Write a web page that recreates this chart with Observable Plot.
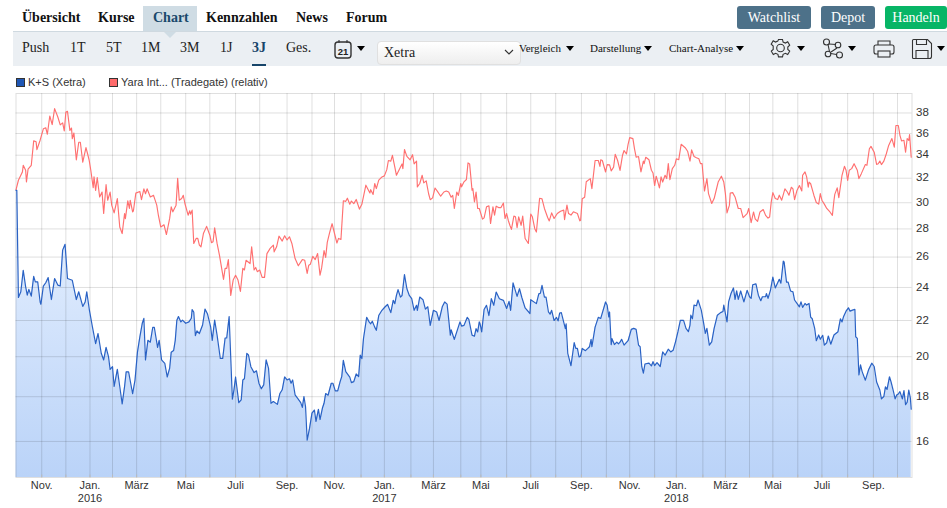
<!DOCTYPE html>
<html lang="de"><head><meta charset="utf-8">
<script src="https://cdn.jsdelivr.net/npm/d3@7"></script>
<script src="https://cdn.jsdelivr.net/npm/@observablehq/plot@0.6"></script>
<style>
html,body{margin:0;padding:0;background:#fff;width:947px;height:508px;overflow:hidden}
#page{position:relative;width:947px;height:508px;font-family:"Liberation Serif",serif;color:#111}
.a{position:absolute;white-space:nowrap;line-height:16px}
.t{font-size:14px;font-weight:bold;top:10px}
.s{font-size:14px;top:40px;color:#222}
.m{font-size:11px;top:40px;color:#111}
.btn{position:absolute;top:6px;height:23px;line-height:23px;border-radius:3px;color:#fff;font-size:14px;text-align:center}
.car{position:absolute;width:0;height:0;border-left:4.5px solid transparent;border-right:4.5px solid transparent;border-top:5px solid #000;top:46px}
.lg{position:absolute;top:75px;font:11px/14px "Liberation Sans",sans-serif;color:#333;white-space:nowrap}
.sw{position:absolute;top:78px;width:7px;height:7px;border:1px solid #333}
#chart{position:absolute;left:0;top:85px}
#chart svg{display:block}
svg.i{position:absolute;fill:none;stroke:#333;stroke-width:1.1}
</style></head><body><div id="page">
<div class="a" style="left:143px;top:6px;width:54px;height:25px;background:#cfdce4"></div>
<div class="a" style="left:13px;top:31px;width:934px;height:35px;background:#ebeff3;border-top:1px solid #cfd9e0;box-sizing:border-box"></div>
<div class="a" style="left:164px;top:32px;width:0;height:0;border-left:6px solid transparent;border-right:6px solid transparent;border-top:6px solid #cfdce4"></div>
<div class="a t" style="left:22px">Übersicht</div><div class="a t" style="left:98px">Kurse</div>
<div class="a t" style="left:153px;color:#19496b">Chart</div><div class="a t" style="left:206px">Kennzahlen</div>
<div class="a t" style="left:296px">News</div><div class="a t" style="left:346px">Forum</div>
<div class="btn" style="left:737px;width:74px;background:#4d7189">Watchlist</div>
<div class="btn" style="left:821px;width:54px;background:#4d7189">Depot</div>
<div class="btn" style="left:885px;width:62px;background:#07b566">Handeln</div>
<div class="a s" style="left:22px">Push</div><div class="a s" style="left:70px">1T</div><div class="a s" style="left:106px">5T</div>
<div class="a s" style="left:141px">1M</div><div class="a s" style="left:180px">3M</div><div class="a s" style="left:220px">1J</div>
<div class="a s" style="left:252px;font-weight:bold;color:#17456a">3J</div>
<div class="a" style="left:252px;top:64px;width:14px;height:2px;background:#17456a"></div>
<div class="a s" style="left:286px">Ges.</div>
<svg class="i" style="left:334px;top:39px" width="19" height="21" viewBox="0 0 19 21"><rect x="1" y="3" width="16" height="16" rx="3" stroke-width="1.4"/><path d="M5 1v3M13 1v3"/><text x="9" y="16" font-family="Liberation Sans" font-size="9.5" font-weight="bold" text-anchor="middle" fill="#222" stroke="none">21</text></svg>
<div class="car" style="left:357px"></div>
<div class="a" style="left:377px;top:41px;width:144px;height:24px;border:1px solid #e0e0e0;box-sizing:border-box;border-radius:4px;background:linear-gradient(#fff,#eee);font-size:14px;line-height:22px;padding-left:6px;color:#222">Xetra</div>
<svg class="i" style="left:504px;top:48px" width="10" height="8" viewBox="0 0 10 8"><path d="M1 2l4 4 4-4"/></svg>
<div class="a m" style="left:519px">Vergleich</div><div class="car" style="left:566px"></div>
<div class="a m" style="left:590px">Darstellung</div><div class="car" style="left:644px"></div>
<div class="a m" style="left:669px">Chart-Analyse</div><div class="car" style="left:736px"></div>
<svg class="i" style="left:770px;top:38px" width="21" height="21" viewBox="0 0 21 21"><path d="M8.5 1.5h4l.6 2.6 2.3 1 2.3-1.3 2 3.4-1.9 1.8v2.4l1.9 1.8-2 3.4-2.3-1.3-2.3 1-.6 2.6h-4l-.6-2.6-2.3-1-2.3 1.3-2-3.4 1.9-1.8V8L1.2 6.2l2-3.4 2.3 1.3 2.3-1z"/><circle cx="10.5" cy="10" r="3.8"/></svg>
<div class="car" style="left:797px"></div>
<svg class="i" style="left:822px;top:38px" width="22" height="21" viewBox="0 0 22 21"><circle cx="4.5" cy="4" r="3"/><circle cx="16" cy="7" r="2.8"/><circle cx="6" cy="16" r="2.8"/><circle cx="17.5" cy="17" r="3"/><path d="M6 6.5l1.5 7M8.8 15.5l5.7 1M7 6l7 0.5M15 10l-6 4"/></svg>
<div class="car" style="left:848px"></div>
<svg class="i" style="left:873px;top:39px" width="22" height="20" viewBox="0 0 22 20"><path d="M5 6V2h12v4M5 15H3a2 2 0 0 1-2-2V8a2 2 0 0 1 2-2h16a2 2 0 0 1 2 2v5a2 2 0 0 1-2 2h-2"/><rect x="5" y="12" width="12" height="6"/></svg>
<svg class="i" style="left:911px;top:38px" width="22" height="22" viewBox="0 0 22 22"><path d="M2.5 1.5h14l4 4v13a2 2 0 0 1-2 2h-16a1 1 0 0 1-1-1v-17a1 1 0 0 1 1-1z"/><path d="M5.5 1.5v5h10v-5M5 20.5v-8h12v8"/></svg>
<div class="car" style="left:937px"></div>
<div class="sw" style="left:16px;background:#1f57b5"></div><div class="lg" style="left:28px">K+S (Xetra)</div>
<div class="sw" style="left:109px;background:#ff6b6b"></div><div class="lg" style="left:121px">Yara Int... (Tradegate) (relativ)</div>
<div id="chart"></div>
</div>
<script>
// Tage seit dem 30.09.2015 und Kurse
const ksDays=[0,1,3,6,9,12,14,16,19,22,24,27,30,31,34,37,40,44,48,52,55,58,61,64,70,75,78,83,86,88,91,95,99,102,106,109,112,115,117,120,122,126,129,132,135,137,140,145,148,151,154,157,159,161,164,167,170,172,176,178,181,185,188,191,193,196,198,200,202,205,207,211,215,218,219,221,223,225,228,232,235,238,242,244,247,250,254,257,260,262,265,269,271,273,277,280,282,284,287,289,292,296,299,302,305,308,311,314,317,320,325,328,331,334,337,340,342,344,347,350,354,356,358,360,362,365,368,371,373,376,378,381,383,385,388,392,394,397,400,403,405,407,410,415,417,420,423,426,428,430,432,436,439,441,443,446,448,451,455,459,462,466,469,471,473,475,478,480,483,486,489,492,495,498,499,502,506,509,512,515,519,523,526,530,533,536,540,541,545,548,552,554,557,561,563,567,570,572,574,576,577,579,582,585,588,591,594,597,601,606,610,613,615,618,623,626,629,633,639,640,647,650,652,654,657,659,662,664,666,669,672,674,676,678,683,684,686,690,694,696,698,700,702,704,708,711,713,715,716,720,724,727,733,735,737,738,740,741,744,747,749,751,753,756,761,765,768,771,774,776,778,780,782,787,790,792,794,797,801,804,807,811,814,817,820,823,826,830,833,836,838,839,841,843,846,848,852,855,857,859,862,865,868,870,872,876,879,880,884,886,889,892,894,896,898,901,905,909,912,914,916,920,923,926,928,932,933,935,938,941,944,949,951,954,955,958,960,963,966,968,971,974,976,978,981,983,986,988,990,993,995,998,1000,1003,1005,1008,1010,1013,1017,1022,1025,1027,1029,1032,1035,1037,1040,1043,1044,1046,1048,1050,1052,1056,1060,1064,1067,1070,1074,1076,1079,1081,1083,1086,1088,1091,1093,1095,1097,1099,1102,1104,1106,1108,1110,1112,1113];
const ksVals=[31,31,23.38,23.73,25.11,24.04,23.52,23.88,23.46,24.71,24.36,24.36,23.1,22.96,24.09,24.3,24.63,23.25,24.57,24.15,24.09,26.48,26.89,24.57,24.46,23.25,23.73,22.83,23.1,23.73,22.69,21.64,20.7,21.26,20.18,19.83,20.5,20,19.34,19.48,18.49,19.34,18.49,17.66,18.49,19.22,19.22,18.14,18.81,20.24,21.07,21.84,22.12,19.83,20.88,20.78,21.6,21.6,20.5,20.88,19.83,19.65,18.96,19.39,20.24,20.33,20.88,22.02,22.23,21.92,22.02,21.84,21.92,22.13,22.64,22.5,21.14,21.41,21.26,21.74,22.67,22.4,21.64,20.88,22.02,21.17,19.91,19.91,21.01,21.01,22.23,17.88,18.33,18.96,17.72,17.85,18.81,18.87,20.18,20.09,19.48,19.18,19.27,18.65,18.38,18.57,19.83,19.39,17.69,17.77,17.64,18.14,18.33,18.96,18.81,18.87,18.65,18.81,18.09,17.93,17.72,17.5,18.01,17.53,16.05,16.57,17.24,17.38,16.87,17.41,16.95,17.47,17.69,18.15,18.07,18.65,18.65,18.28,18.28,18.73,18.98,19.81,19.23,18.95,18.68,18.73,19.11,18.98,20.08,19.9,20.97,22.19,21.92,21.81,21.96,21.62,21.44,22.29,22.6,22.81,22.95,22.46,23.2,23,23.5,23.86,23.4,23.5,24.83,23.92,23.5,23.3,22.6,22.9,22.6,23.4,23.24,22.67,22.81,21.72,22.6,22.5,22,22.81,23.1,22.97,21.17,21.47,20.93,21.35,21.92,21.68,21.72,22.18,22.06,21.17,21.11,21.53,21.35,21.92,21.81,21.35,22.65,22.9,22.29,23.3,22.9,23.71,23.3,23.2,22.71,23.14,22.6,24.29,23.44,23.92,23.36,22.74,22.41,23.24,23,23.6,23.64,24.14,23.4,23.4,22.5,22.37,22.6,22,22.18,21.98,22.44,22.46,21.53,21.81,20.18,19.53,20.75,20.44,20.44,19.99,20.03,20.44,20.32,20.44,20.53,20.93,20.53,21.62,22.18,22.12,23.1,22.9,22.21,22.5,20.65,20.97,20.65,20.78,20.69,20.78,20.94,20.62,20.86,21.49,21.55,21.49,20.62,20.53,19.49,19.15,19.62,19.66,19.52,19.74,19.54,19.69,19.49,20.25,20.08,20.4,20.25,20.34,20.8,21.36,22.01,22.01,21.55,21.36,21.74,22.31,22.1,22.91,22.87,23.22,22.61,21.83,21.27,21.55,20.62,20.8,21.55,21.92,22.31,22.46,22.53,22.91,21.92,23.11,23.62,23.97,23.26,23.78,23.26,23.78,23.11,23.82,23.42,23.32,24.17,24.23,23.52,23.18,23.42,23.42,23.62,23.32,23.82,24.67,23.97,24.52,24.27,25.72,25.67,24.34,24.34,23.78,23.72,23.22,23.01,22.81,23.11,22.77,23.01,22.91,23.01,22.2,22.1,21.55,20.86,21.18,20.94,21.16,20.62,20.75,21.12,20.67,21.18,21.36,22.1,21.92,22.24,22.55,22.75,22.55,22.61,22.65,21.08,20.99,19.06,19.57,19.23,18.8,19.32,19.66,19.49,18.71,18.32,17.9,18.01,18.47,18.35,18.97,18.71,18.24,17.9,18.08,18.13,18.24,17.9,18.29,17.63,17.74,18.32,17.93,17.42];
const yaraDays=[0,3,6,8,9,12,13,15,19,22,25,26,30,34,37,39,42,45,48,52,55,58,60,62,64,67,69,70,72,75,78,80,83,87,89,91,93,96,97,99,101,104,107,109,112,114,117,119,122,126,129,132,135,136,139,141,142,145,146,149,154,156,159,161,163,167,171,175,177,180,184,187,191,193,195,199,201,203,206,208,210,214,216,217,219,221,224,226,228,230,233,237,241,243,245,247,250,253,258,260,262,264,267,270,273,276,279,282,284,286,291,293,296,298,300,303,306,309,312,316,320,321,324,327,331,334,337,340,343,347,351,356,359,362,364,366,369,372,375,378,380,383,385,387,390,393,397,399,401,404,407,410,412,415,417,420,423,427,430,435,440,441,444,446,448,451,455,458,461,463,466,468,471,473,477,480,481,483,486,490,493,495,498,499,502,505,507,510,513,515,518,521,524,528,532,535,538,541,543,545,548,550,553,554,557,560,562,564,567,568,570,572,574,576,580,582,585,588,590,593,595,597,600,603,606,608,610,612,614,616,619,621,623,625,628,630,633,637,640,642,645,647,651,654,657,661,663,666,669,673,677,681,682,685,687,690,693,698,701,702,704,707,709,714,716,720,724,726,727,729,733,735,738,740,743,745,748,751,754,756,759,761,763,767,769,771,774,777,780,781,783,787,790,792,794,796,800,802,804,807,809,811,813,816,819,821,824,827,832,835,838,840,843,846,849,851,853,856,859,861,865,868,870,873,877,880,882,884,887,888,891,894,898,901,904,909,911,914,917,919,922,925,929,932,935,937,939,941,944,947,949,952,956,959,961,964,966,968,971,974,977,978,981,983,985,986,988,992,995,998,1000,1002,1005,1008,1012,1015,1017,1018,1021,1023,1027,1030,1032,1034,1036,1039,1042,1046,1048,1051,1056,1058,1061,1063,1067,1070,1072,1074,1076,1079,1082,1085,1089,1092,1094,1097,1099,1101,1104,1106,1108,1110,1111,1113];
const yaraVals=[31.04,31.83,32.26,32.54,33.11,32.68,31.69,32.77,33.11,35.31,35.22,34.5,35.37,36.45,36.55,35.93,37.7,36.86,38.44,37.6,36.83,37.02,36.24,38.1,38.17,36.3,36.52,35.52,36.05,33.59,35.18,35.18,33.39,34.69,34.13,33.54,32.68,31.21,32.12,30.98,32.06,30.46,30.85,29.16,31.46,30.2,30.85,29.81,29.21,30.33,28.14,27.66,29.16,28.77,30.15,29.55,30.2,29.29,29.37,30.77,30.9,30.25,31.12,30.72,31.12,30.46,30.59,29.81,29.03,28.14,28.31,27.59,28.77,29.68,29.29,29.81,31.99,30.2,30.33,30.59,29.94,29.03,29.37,29.11,29.42,26.95,27.31,27.31,26.83,26.71,27.66,28.19,27.54,27,27.07,28.09,26.95,26.12,24.52,25.24,25.24,25.83,23.5,24.47,24.78,24.47,23.75,25.24,25.13,25.78,25.56,26.71,25.13,25.3,25.02,25.13,24.65,24.65,26.24,26.6,26.83,26.36,26.71,27.47,27.12,27.5,27.2,27.43,26.95,25.9,25.41,25.83,25.78,24.91,25.45,25.52,26.05,25.83,26.24,24.79,25.27,26.45,25.98,27.03,27.74,28.39,27.43,26.98,27.31,27.23,30.16,30.11,30.36,29.88,30.13,29.93,30.26,29.5,29.88,31.42,30.78,31.05,30.66,31.56,31.14,31.84,32.11,32.2,32.73,33.53,33.47,33.99,32.95,32.25,32.81,33.23,32.81,34.51,33.9,33.59,34.05,33.23,33.47,31.28,31.56,32.25,31.61,31.78,30.72,30.24,30.39,31.19,30.91,30.52,30.86,30.94,30.86,30.44,30.58,29.55,30.86,30.58,31.56,31.28,31.7,31.89,33.32,33.23,31,31.14,30.06,30.86,29.55,29.55,28.73,28.83,29.68,29.75,28.4,29.68,29.04,29.73,29.62,29.62,29.98,28.78,29.16,28.65,28.27,27.97,28.96,28.91,28.09,28.91,28.27,28.96,27.3,26.95,29.11,28.91,28.02,27.77,30.36,30.31,29.55,28.86,28.6,29.21,28.78,29.16,29.34,29.42,28.7,29.81,29.16,29.04,29.29,29.16,28.6,28.65,30.31,30.44,31.7,31.97,31.14,33.53,33.53,33.01,33.59,33.53,32.53,33.17,33.15,32.62,32.95,34.08,33.53,32.67,33.97,34.42,34.11,34.99,35.61,35.52,34.58,33.82,33.88,32.54,33.48,33.25,33.82,33.59,32.68,32.45,31.39,32.17,31.2,32.11,31.68,32.25,31.97,33.25,31.88,32.82,33.11,33.68,33.6,34.99,34.68,34.36,33.48,34.48,33.88,33.77,33.68,33.25,33.25,30.94,31.97,30.73,29.94,30.33,30.86,31.68,32.17,31.68,30.73,29.21,29.81,30.78,30.81,30.46,29.55,29.55,28.84,29.15,29.55,28.46,29.28,28.76,28.56,29.28,29.47,29.02,28.81,28.89,30.07,30.81,30.33,30.25,30.6,30.2,31.12,30.86,30.6,31.25,31.12,30.25,30.99,31.39,30.94,32.25,32.54,32.11,31.25,31.68,31.54,30.6,30.02,29.89,30.73,30.2,29.89,29.55,29.28,29.02,30.2,30.67,31.2,30.41,32.25,33.02,32.68,31.82,32.68,32.82,33.25,32.68,31.97,32.39,33.17,33.11,34.58,34.8,34.27,33.19,33.25,33.48,33.17,33.48,34.11,34.89,35.52,34.73,36.77,36.77,35.83,35.3,35.36,34.27,35.52,35.36,35.89,33.82];
const yTicks=[16,18,20,22,24,26,28,30,32,34,36,38];
// Lage der Monatslinien, wie im Bild (Tage seit dem 30.09.2015)
const monthDays=[32,62,92,120,150,180,211,241,273,303,337,368,396,429,458,491,519,553,578,610,640,671,703,734,763,794,821,854,882,912,941,972,1002,1034,1066,1096];
const monthLabels=["Nov.","","Jan.\n2016","","März","","Mai","","Juli","","Sep.","","Nov.","","Jan.\n2017","","März","","Mai","","Juli","","Sep.","","Nov.","","Jan.\n2018","","März","","Mai","","Juli","","Sep.",""];
const startDate="2015-09-30", lastDay=1114, yMin=14.55, yMax=40;

const dayOf=d=>new Date(Date.parse(startDate)+d*864e5);
const ks=ksDays.map((d,i)=>({date:dayOf(d),v:ksVals[i]}));
const yara=yaraDays.map((d,i)=>({date:dayOf(d),v:yaraVals[i]}));
const monthDates=monthDays.map(dayOf);
const labelOf=new Map(monthDates.map((d,i)=>[+d,monthLabels[i]]));
const gridStyle={stroke:"#000",strokeOpacity:.125,strokeWidth:1};
const gradient=()=>{const s=d3.create("svg:defs");const g=s.append("linearGradient").attr("id","ksFill").attr("x1",0).attr("x2",0).attr("y1",0).attr("y2",1);
 g.append("stop").attr("offset","0%").attr("stop-color","#e9f2ff");g.append("stop").attr("offset","100%").attr("stop-color","#bad3f8");return s.node();};

const plot=Plot.plot({
 width:947,height:423,marginLeft:15.5,marginRight:35.5,marginTop:8,marginBottom:31,
 style:{background:"transparent",fontFamily:"'Liberation Sans',sans-serif",fontSize:"11px",color:"#333",overflow:"visible"},
 x:{type:"utc",domain:[dayOf(0),dayOf(lastDay)]},
 y:{type:"log",domain:[yMin,yMax]},
 marks:[
  gradient,
  Plot.areaY(ks,{x:"date",y1:()=>yMin,y2:"v",fill:"url(#ksFill)"}),
  Plot.gridY(yTicks,gridStyle),
  Plot.gridX(monthDates,gridStyle),
  Plot.frame({stroke:"#000",strokeOpacity:.125}),
  Plot.axisY({ticks:yTicks,anchor:"right",tickSize:0,tickPadding:4,label:null,tickFormat:d=>String(d),fontSize:11.5,dy:-0.5}),
  Plot.axisX({ticks:monthDates,anchor:"bottom",tickSize:3,tickPadding:2,label:null,tickFormat:d=>labelOf.get(+d)||"",lineHeight:1.18,stroke:"#bbb",dy:-2.5}),
  Plot.line(yara,{x:"date",y:"v",stroke:"#ff7070",strokeWidth:1.15}),
  Plot.line(ks,{x:"date",y:"v",stroke:"#2a62c4",strokeWidth:1.2})
 ]
});
document.getElementById("chart").appendChild(plot);
</script></body></html>
